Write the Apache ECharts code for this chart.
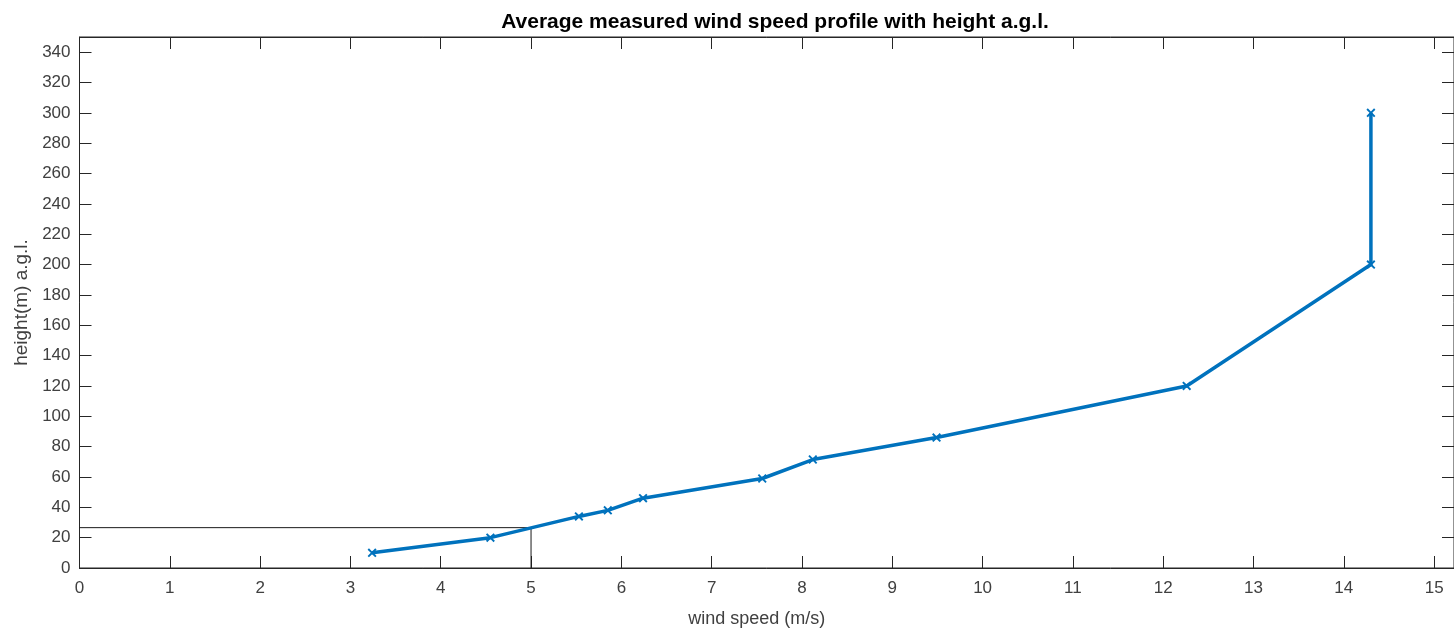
<html>
<head>
    <title></title>
    <meta charset="utf-8">
    <script src="https://cdn.jsdelivr.net/npm/echarts@6/dist/echarts.min.js" type="text/javascript"></script>
    <style>
        body { margin: 0; background: #fff; }
    </style>
</head>
<body>
    <div id="main" style="width: 1454px; height: 633px"></div>
    <script>
        // measured profile: wind speed (m/s) vs height a.g.l. (m)
        var windSpeed = [3.24, 4.55, 5.53, 5.85, 6.24, 7.56, 8.12, 9.49, 12.26, 14.30, 14.30];
        var height = [10, 20, 34, 38, 46, 59, 71.5, 86, 120, 200, 300];

        // guide lines at 5 m/s
        var guideX = [0, 5, 5];
        var guideY = [26.6, 26.6, 0];

        var xTicks = { min: 0, max: 15.22, interval: 1 };
        var yTicks = { min: 0, max: 350, interval: 20 };

        var xMark = 'path://M0,1.5L1.5,0L5,3.5L8.5,0L10,1.5L6.5,5L10,8.5L8.5,10L5,6.5L1.5,10L0,8.5L3.5,5Z';

        var profile = [];
        for (var i = 0; i < windSpeed.length; i++) {
            profile.push([windSpeed[i], height[i]]);
        }
        var guide = [];
        for (var j = 0; j < guideX.length; j++) {
            guide.push([guideX[j], guideY[j]]);
        }

        var axisColor = '#262626';
        var textColor = '#404040';
        var font = 'Liberation Sans, Arial, sans-serif';

        function boxAxis(pos, t) {
            return {
                type: 'value',
                position: pos,
                min: t.min,
                max: t.max,
                interval: t.interval,
                axisLine: { show: true, onZero: false, lineStyle: { color: axisColor, width: 1 } },
                axisTick: { show: true, inside: true, length: 12, lineStyle: { color: axisColor } },
                axisLabel: { show: false },
                splitLine: { show: false }
            };
        }

        window.onload = function () {
            var myChart = echarts.init(document.getElementById('main'));

            var option = {
                animation: false,
                title: {
                    text: 'Average measured wind speed profile with height a.g.l.',
                    left: 770,
                    textAlign: 'center',
                    top: 7,
                    textStyle: { fontFamily: font, fontSize: 21, fontWeight: 'bold', color: '#000' }
                },
                grid: {
                    left: 79.5,
                    top: 37,
                    right: 0,
                    bottom: 63.5,
                    show: true,
                    borderColor: axisColor,
                    borderWidth: 1
                },
                xAxis: [{
                    type: 'value',
                    position: 'bottom',
                    min: xTicks.min,
                    max: xTicks.max,
                    interval: xTicks.interval,
                    name: 'wind speed (m/s)',
                    nameLocation: 'middle',
                    nameGap: 42,
                    nameTextStyle: { fontFamily: font, fontSize: 18, color: textColor, padding: [0, 20, 0, 0] },
                    axisLine: { show: true, onZero: false, lineStyle: { color: axisColor, width: 1 } },
                    axisTick: { show: true, inside: true, length: 12, lineStyle: { color: axisColor } },
                    axisLabel: { showMaxLabel: false, margin: 12, fontFamily: font, fontSize: 17, color: textColor },
                    splitLine: { show: false }
                }, boxAxis('top', xTicks)],
                yAxis: [{
                    type: 'value',
                    position: 'left',
                    min: yTicks.min,
                    max: yTicks.max,
                    interval: yTicks.interval,
                    name: 'height(m) a.g.l.',
                    nameLocation: 'middle',
                    nameGap: 44,
                    nameTextStyle: { fontFamily: font, fontSize: 19, color: textColor },
                    axisLine: { show: true, onZero: false, lineStyle: { color: axisColor, width: 1 } },
                    axisTick: { show: true, inside: true, length: 12, lineStyle: { color: axisColor } },
                    axisLabel: { showMaxLabel: false, margin: 9, fontFamily: font, fontSize: 17, color: textColor },
                    splitLine: { show: false }
                }, boxAxis('right', yTicks)],
                series: [{
                    type: 'line',
                    data: guide,
                    symbol: 'none',
                    lineStyle: { color: '#1a1a1a', width: 1 },
                    silent: true,
                    z: 1
                }, {
                    type: 'line',
                    data: profile,
                    symbol: xMark,
                    symbolSize: 9,
                    showAllSymbol: true,
                    lineStyle: { color: '#0072BD', width: 3.5 },
                    itemStyle: { color: '#0072BD' },
                    z: 2
                }, {
                    // binds the mirrored top/right axes
                    type: 'line',
                    xAxisIndex: 1,
                    yAxisIndex: 1,
                    data: guide,
                    symbol: 'none',
                    lineStyle: { opacity: 0 },
                    silent: true
                }]
            };
            myChart.setOption(option);
        }
    </script>
</body>
</html>
